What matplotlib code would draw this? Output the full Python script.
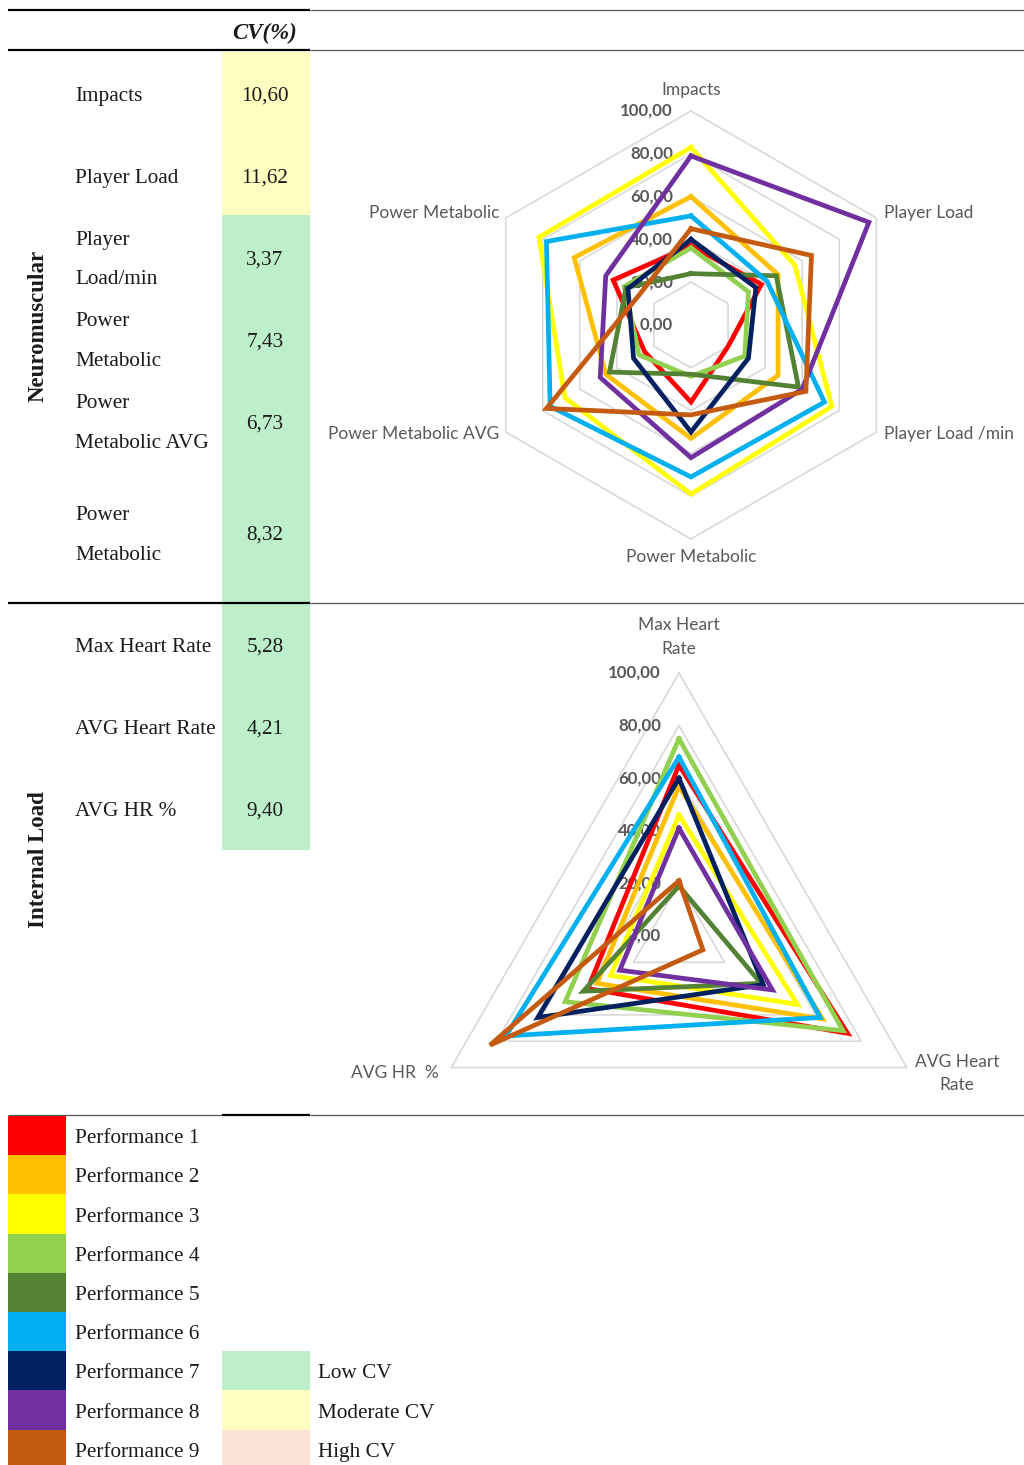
import matplotlib
matplotlib.use("Agg")
import matplotlib.pyplot as plt
import numpy as np
from matplotlib.patches import Rectangle

W, H = 1024, 1465

# ---------------- data ----------------
neuro_rows = ["Impacts", "Player Load", "Player\nLoad/min", "Power\nMetabolic",
              "Power\nMetabolic AVG", "Power\nMetabolic"]
neuro_cv = [10.60, 11.62, 3.37, 7.43, 6.73, 8.32]
internal_rows = ["Max Heart Rate", "AVG Heart Rate", "AVG HR %"]
internal_cv = [5.28, 4.21, 9.40]

neuro_axes = ["Impacts", "Player Load", "Player Load /min", "Power Metabolic",
              "Power Metabolic AVG", "Power Metabolic"]
internal_axes = ["Max Heart\nRate", "AVG Heart\nRate", "AVG HR  %"]

performances = ["Performance 1", "Performance 2", "Performance 3", "Performance 4",
                "Performance 5", "Performance 6", "Performance 7", "Performance 8",
                "Performance 9"]
perf_colors = ["#FF0000", "#FFC000", "#FFFF00", "#92D050", "#548235",
               "#00B0F0", "#002060", "#7030A0", "#C55A11"]

# values per performance, order of neuro_axes
neuro_values = [
    [37, 38, 20, 36, 25, 42],   # P1
    [60, 47, 47, 53, 46, 63],   # P2
    [83, 56, 76, 79, 68, 82],   # P3
    [36, 31, 29, 24, 28, 36],   # P4
    [24, 46, 58, 23, 44, 35],   # P5
    [51, 41, 72, 71, 76, 78],   # P6
    [40, 35, 31, 50, 31, 34],   # P7
    [79, 96, 60, 62, 49, 46],   # P8
    [45, 65, 62, 42, 78, 28],   # P9
]
# values per performance, order of internal_axes
internal_values = [
    [65, 74, 40],   # P1
    [57, 63, 36],   # P2
    [46, 52, 30],   # P3
    [75, 72, 50],   # P4
    [19, 36, 42],   # P5
    [68, 62, 76],   # P6
    [60, 37, 62],   # P7
    [41, 41, 26],   # P8
    [21, 10.5, 83], # P9
]
ticks = [0, 20, 40, 60, 80, 100]

cv_levels = ["Low CV", "Moderate CV", "High CV"]
cv_colors = ["#BEEFCB", "#FFFDBF", "#FDE3D7"]

# ---------------- figure ----------------
plt.rcParams["font.family"] = ["Liberation Serif", "DejaVu Serif"]
fig = plt.figure(figsize=(W / 100, H / 100), dpi=100)
bg = fig.add_axes([0, 0, 1, 1])
bg.set_xlim(0, W)
bg.set_ylim(H, 0)
bg.axis("off")

TXT = "#1a1a1a"
FS = 15.3


def fmt(v):
    return f"{v:.2f}".replace(".", ",")


def hline(y, x0, x1, color, lw):
    bg.plot([x0, x1], [y, y], color=color, lw=lw, solid_capstyle="butt", zorder=5)


def row_text(x, y, label, **kw):
    lines = label.split("\n")
    n = len(lines)
    for i, ln in enumerate(lines):
        bg.text(x, y + (i - (n - 1) / 2) * 40 + 2, ln, va="center", fontsize=FS,
                color=TXT, zorder=6, **kw)


# rules
for y in (10, 50, 603):
    hline(y, 8, 310, "black", 1.6)
    hline(y, 310, 1024, "#555555", 0.9)
hline(1115, 8, 222, "#555555", 0.9)
hline(1115, 222, 310, "black", 1.6)
hline(1115, 310, 1024, "#555555", 0.9)

bg.text(265, 33, "CV(%)", ha="center", va="center", fontsize=16.5,
        fontweight="bold", fontstyle="italic", color=TXT)

# CV column cells
neuro_bounds = [52, 134, 215, 298, 380, 462, 600]
for i, v in enumerate(neuro_cv):
    y0, y1 = neuro_bounds[i], neuro_bounds[i + 1]
    c = cv_colors[1] if v >= 10 else cv_colors[0]
    bg.add_patch(Rectangle((222, y0), 88, y1 - y0, color=c, lw=0, zorder=1))
bg.add_patch(Rectangle((222, 600), 88, 250, color=cv_colors[0], lw=0, zorder=1))

neuro_y = [94, 176, 258, 340, 422, 533]
for lab, v, y in zip(neuro_rows, neuro_cv, neuro_y):
    row_text(75, y, lab, ha="left")
    row_text(265, y, fmt(v), ha="center")

internal_y = [645, 727, 809]
for lab, v, y in zip(internal_rows, internal_cv, internal_y):
    row_text(75, y, lab, ha="left")
    row_text(265, y, fmt(v), ha="center")

bg.text(38, 326, "Neuromuscular", rotation=90, ha="center", va="center",
        fontsize=16.5, fontweight="bold", color=TXT)
bg.text(38, 860, "Internal Load", rotation=90, ha="center", va="center",
        fontsize=16.5, fontweight="bold", color=TXT)

# legend
row_h = 39.2
for i, (name, c) in enumerate(zip(performances, perf_colors)):
    y0 = 1116 + i * row_h
    hgt = row_h if i < 8 else H - y0
    bg.add_patch(Rectangle((8, y0), 58, hgt, color=c, lw=0, zorder=1))
    bg.text(75, y0 + row_h / 2 + 3, name, ha="left", va="center", fontsize=FS, color=TXT)
for j, (name, c) in enumerate(zip(cv_levels, cv_colors)):
    y0 = 1116 + (6 + j) * row_h
    hgt = row_h if j < 2 else H - y0
    bg.add_patch(Rectangle((222, y0), 88, hgt, color=c, lw=0, zorder=1))
    bg.text(318, y0 + row_h / 2 + 3, name, ha="left", va="center", fontsize=FS, color=TXT)

# ---------------- radars ----------------
SANS = ["Lato", "DejaVu Sans"]
GRAY = "#595959"


def radar(cx, cy, scale, halfw, halfh, axis_names, values, label_offsets, label_ha):
    ax = fig.add_axes([(cx - halfw) / W, 1 - (cy + halfh) / H, 2 * halfw / W, 2 * halfh / H])
    ax.set_xlim(-halfw / scale, halfw / scale)
    ax.set_ylim(-halfh / scale, halfh / scale)
    ax.axis("off")
    n = len(axis_names)
    theta = np.deg2rad(90 - 360 / n * np.arange(n))
    t = np.r_[theta, theta[0]]
    for lvl in ticks[1:]:
        ax.plot(lvl * np.cos(t), lvl * np.sin(t), color="#D9D9D9", lw=1.2, zorder=1)
    for lvl in ticks:
        ax.annotate(fmt(lvl), xy=(0, lvl), xytext=(-18, 0), textcoords="offset pixels",
                    ha="right", va="center", fontsize=12.2, fontweight="bold",
                    color=GRAY, family=SANS, zorder=2)
    for vals, c in zip(values, perf_colors):
        v = np.r_[vals, vals[0]]
        ax.plot(v * np.cos(t), v * np.sin(t), color=c, lw=3.4, zorder=3,
                solid_joinstyle="miter")
    for k, name in enumerate(axis_names):
        ax.annotate(name, xy=(100 * np.cos(theta[k]), 100 * np.sin(theta[k])),
                    xytext=label_offsets[k], textcoords="offset pixels",
                    ha=label_ha[k], va="center", fontsize=12.5, color=GRAY,
                    family=SANS, linespacing=1.6, zorder=2)
    return ax


radar(691, 325, 2.14, 330, 280, neuro_axes, neuro_values,
      [(0, 21), (8, 5), (8, -2), (0, -18), (-6, -2), (-6, 5)],
      ["center", "left", "left", "center", "right", "right"])

radar(679, 936, 2.63, 340, 320, internal_axes, internal_values,
      [(0, 36), (50, -6), (-56, -6)],
      ["center", "center", "center"])

fig.savefig("out.png", dpi=100)
